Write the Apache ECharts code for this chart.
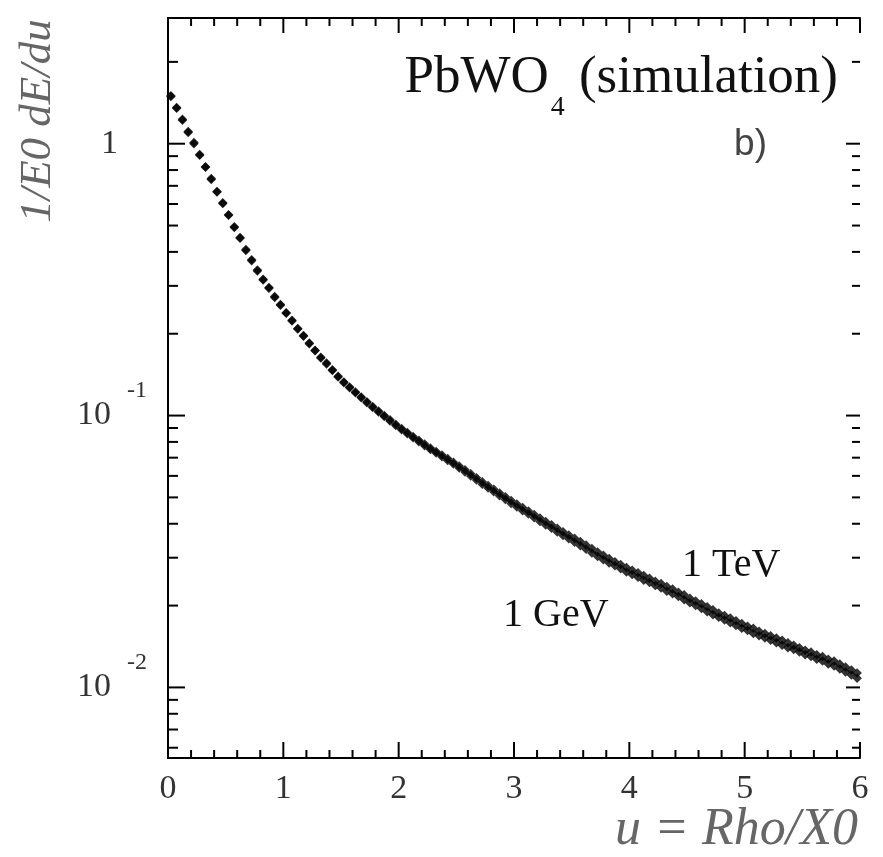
<!DOCTYPE html>
<html><head><meta charset="utf-8">
<script src="https://cdn.jsdelivr.net/npm/echarts@6/dist/echarts.min.js"></script>
<style>html,body{margin:0;padding:0;background:#fff}#c{width:883px;height:857px}</style>
</head><body><div id="c"></div>
<script>
// bin centres in u = Rho/X0
const uBins = [
0.025,0.075,0.125,0.175,0.225,0.275,0.325,0.375,0.425,0.475,0.525,0.575,0.625,0.675,0.725,0.775,0.825,0.875,0.925,0.975,
1.025,1.075,1.125,1.175,1.225,1.275,1.325,1.375,1.425,1.475,1.525,1.575,1.625,1.675,1.725,1.775,1.825,1.875,1.925,1.975,
2.025,2.075,2.125,2.175,2.225,2.275,2.325,2.375,2.425,2.475,2.525,2.575,2.625,2.675,2.725,2.775,2.825,2.875,2.925,2.975,
3.025,3.075,3.125,3.175,3.225,3.275,3.325,3.375,3.425,3.475,3.525,3.575,3.625,3.675,3.725,3.775,3.825,3.875,3.925,3.975,
4.025,4.075,4.125,4.175,4.225,4.275,4.325,4.375,4.425,4.475,4.525,4.575,4.625,4.675,4.725,4.775,4.825,4.875,4.925,4.975,
5.025,5.075,5.125,5.175,5.225,5.275,5.325,5.375,5.425,5.475,5.525,5.575,5.625,5.675,5.725,5.775,5.825,5.875,5.925,5.975];

// 1/E0 dE/du, 1 GeV
const gev1 = [
1.49,1.35,1.22,1.11,1.00,0.907,0.819,0.739,0.667,0.602,
0.545,0.495,0.449,0.408,0.371,0.340,0.317,0.294,0.274,0.2545,
0.2377,0.2228,0.2089,0.1959,0.1837,0.1730,0.1637,0.1549,0.1466,0.1387,
0.1321,0.1266,0.1213,0.1163,0.1115,0.1071,0.1030,0.0992,0.0955,0.0919,
0.0886,0.0857,0.0829,0.0801,0.0775,0.0750,0.0728,0.0706,0.0684,0.0663,
0.0642,0.0620,0.0599,0.0579,0.0559,0.0541,0.0524,0.0507,0.0491,0.0475,
0.0461,0.0447,0.0434,0.0421,0.0408,0.0396,0.0385,0.0373,0.0362,0.0352,
0.0342,0.0332,0.0322,0.0312,0.0303,0.0295,0.0287,0.0280,0.0273,0.0266,
0.0260,0.0254,0.0248,0.0243,0.0237,0.0232,0.0226,0.0221,0.0216,0.0210,
0.0205,0.0200,0.0195,0.0190,0.0185,0.0181,0.0177,0.0173,0.0169,0.0165,
0.0162,0.0158,0.0155,0.0152,0.0149,0.0146,0.0143,0.0140,0.0138,0.0135,
0.0132,0.0130,0.0127,0.0125,0.0122,0.0120,0.0117,0.0114,0.0111,0.0108];

// 1/E0 dE/du, 1 TeV
const tev1 = [
1.50,1.36,1.23,1.10,1.01,0.912,0.822,0.744,0.664,0.606,
0.548,0.492,0.452,0.405,0.374,0.343,0.315,0.296,0.272,0.2560,
0.2390,0.2240,0.2080,0.1970,0.1850,0.1740,0.1630,0.1560,0.1475,0.1395,
0.1330,0.1275,0.1220,0.1170,0.1125,0.1080,0.1040,0.1000,0.0965,0.0930,
0.0897,0.0866,0.0838,0.0812,0.0786,0.0760,0.0738,0.0716,0.0695,0.0674,
0.0653,0.0632,0.0611,0.0591,0.0571,0.0553,0.0536,0.0519,0.0503,0.0487,
0.0473,0.0459,0.0446,0.0433,0.0420,0.0408,0.0397,0.0385,0.0374,0.0364,
0.0354,0.0344,0.0334,0.0324,0.0315,0.0306,0.0298,0.0290,0.0283,0.0276,
0.0270,0.0264,0.0258,0.0252,0.0246,0.0241,0.0235,0.0230,0.0224,0.0219,
0.0213,0.0208,0.0203,0.0198,0.0193,0.0188,0.0184,0.0180,0.0176,0.0172,
0.0168,0.0165,0.0161,0.0158,0.0155,0.0152,0.0149,0.0146,0.0143,0.0140,
0.0137,0.0135,0.0132,0.0130,0.0127,0.0125,0.0122,0.0119,0.0116,0.0113];

const xMin = 0, xMax = 6, xStep = 1;
const yMin = 0.0055, yMax = 2.9;
const xMajorTicks = [0, 1, 2, 3, 4, 5, 6];
const xMinorTicks = [0.2,0.4,0.6,0.8,1.2,1.4,1.6,1.8,2.2,2.4,2.6,2.8,3.2,3.4,3.6,3.8,4.2,4.4,4.6,4.8,5.2,5.4,5.6,5.8];
const yMajorTicks = [0.01, 0.1, 1];
const yMajorBase = ['10', '10', '1'];
const yMajorExp = ['-2', '-1', ''];
const yMinorTicks = [0.006,0.007,0.008,0.009,0.02,0.03,0.04,0.05,0.06,0.07,0.08,0.09,0.2,0.3,0.4,0.5,0.6,0.7,0.8,0.9,2];

const SERIF = '"Liberation Serif","Times New Roman",serif';
const SANS = '"Liberation Sans",Arial,sans-serif';

function yLabel(v) {
  for (let i = 0; i < yMajorTicks.length; i++) {
    if (Math.abs(Math.log10(v) - Math.log10(yMajorTicks[i])) < 1e-6) {
      if (yMajorExp[i] === '') return '{one|' + yMajorBase[i] + '}';
      return '{b|' + yMajorBase[i] + '}{s|' + yMajorExp[i] + '}';
    }
  }
  return '';
}

function tickLine(x1, y1, x2, y2) {
  return {type: 'line', shape: {x1: x1, y1: y1, x2: x2, y2: y2}, style: {stroke: '#000', lineWidth: 2}};
}

const chart = echarts.init(document.getElementById('c'), null, {renderer: 'canvas'});
const axisLine = {show: true, lineStyle: {color: '#000', width: 2}};
chart.setOption({
  animation: false,
  backgroundColor: '#fff',
  grid: {left: 168, right: 23, top: 18, bottom: 99},
  xAxis: [{
    type: 'value', min: xMin, max: xMax, interval: xStep, position: 'bottom',
    axisLine: axisLine, splitLine: {show: false}, axisTick: {show: false}, minorTick: {show: false},
    axisLabel: {margin: 14, fontFamily: SERIF, fontSize: 34, color: '#333', lineHeight: 34}
  }, {
    type: 'value', min: xMin, max: xMax, interval: xStep, position: 'top',
    axisLine: axisLine, splitLine: {show: false}, axisTick: {show: false}, minorTick: {show: false},
    axisLabel: {show: false}
  }],
  yAxis: [{
    type: 'log', min: yMin, max: yMax, logBase: 10, position: 'left',
    axisLine: axisLine, splitLine: {show: false}, minorTick: {show: false}, axisTick: {show: false},
    axisLabel: {
      margin: 21, formatter: yLabel, showMinLabel: false, showMaxLabel: false,
      rich: {
        b: {fontFamily: SERIF, fontSize: 34, lineHeight: 34, color: '#333', verticalAlign: 'middle'},
        s: {fontFamily: SERIF, fontSize: 24, lineHeight: 24, color: '#333', verticalAlign: 'middle', padding: [0, 0, 49, 16]},
        one: {fontFamily: SERIF, fontSize: 34, lineHeight: 34, color: '#333', padding: [0, 29, 0, 0]}
      }
    }
  }, {
    type: 'log', min: yMin, max: yMax, logBase: 10, position: 'right',
    axisLine: axisLine, splitLine: {show: false}, minorTick: {show: false}, axisTick: {show: false},
    axisLabel: {show: false}
  }],
  series: [{
    name: '1 GeV', type: 'scatter', symbol: 'diamond', symbolSize: 9.5,
    itemStyle: {color: '#000'}, data: uBins.map((x, i) => [x, gev1[i]]), z: 3
  }, {
    name: '1 TeV', type: 'scatter', symbol: 'diamond', symbolSize: 9.5,
    itemStyle: {color: '#000'}, data: uBins.map((x, i) => [x, tev1[i]]), z: 3
  }, {
    name: 'yTicks', type: 'custom', silent: true, clip: false, z: 4,
    data: yMajorTicks.map(v => [xMin, v, 1]).concat(yMinorTicks.map(v => [xMin, v, 0])),
    renderItem: function (params, api) {
      const v = api.value(1), major = api.value(2) === 1;
      const l = api.coord([xMin, v]);
      const r = api.coord([xMax, v]);
      return {type: 'group', children: [
        tickLine(l[0], l[1], l[0] + (major ? 17 : 10), l[1]),
        tickLine(r[0], r[1], r[0] - (major ? 14 : 8), r[1])
      ]};
    }
  }, {
    name: 'xTicks', type: 'custom', silent: true, clip: false, z: 4,
    data: xMajorTicks.map(u => [u, yMin, 1]).concat(xMinorTicks.map(u => [u, yMin, 0])),
    renderItem: function (params, api) {
      const u = api.value(0), major = api.value(2) === 1;
      const b = api.coord([u, yMin]);
      const t = api.coord([u, yMax]);
      return {type: 'group', children: [
        tickLine(b[0], b[1], b[0], b[1] - (major ? 16 : 8)),
        tickLine(t[0], t[1], t[0], t[1] + (major ? 15 : 8))
      ]};
    }
  }],
  graphic: [
    {type: 'text', x: 838, y: 52, style: {
      text: '{m|PbWO}{s|4}{m| (simulation)}', align: 'right', verticalAlign: 'top',
      rich: {
        m: {fontFamily: SERIF, fontSize: 53, lineHeight: 53, fill: '#111', color: '#111', verticalAlign: 'top'},
        s: {fontFamily: SERIF, fontSize: 28, lineHeight: 28, fill: '#111', color: '#111', verticalAlign: 'top', padding: [42, 1, 0, 2]}
      }}},
    {type: 'text', x: 767, y: 145, style: {text: 'b)', font: '37px ' + SANS, fill: '#444', align: 'right', verticalAlign: 'middle'}},
    {type: 'text', x: 682, y: 565, style: {text: '1 TeV', font: '40px ' + SERIF, fill: '#111', align: 'left', verticalAlign: 'middle'}},
    {type: 'text', x: 503, y: 615, style: {text: '1 GeV', font: '40px ' + SERIF, fill: '#111', align: 'left', verticalAlign: 'middle'}},
    {type: 'text', x: 858, y: 830, style: {text: 'u = Rho/X0', font: 'italic 52px ' + SERIF, fill: '#666', align: 'right', verticalAlign: 'middle'}},
    {type: 'text', x: 38, y: 121, rotation: Math.PI / 2, style: {text: '1/E0 dE/du', font: 'italic 45px ' + SERIF, fill: '#666', align: 'center', verticalAlign: 'middle'}}
  ]
});
</script></body></html>
